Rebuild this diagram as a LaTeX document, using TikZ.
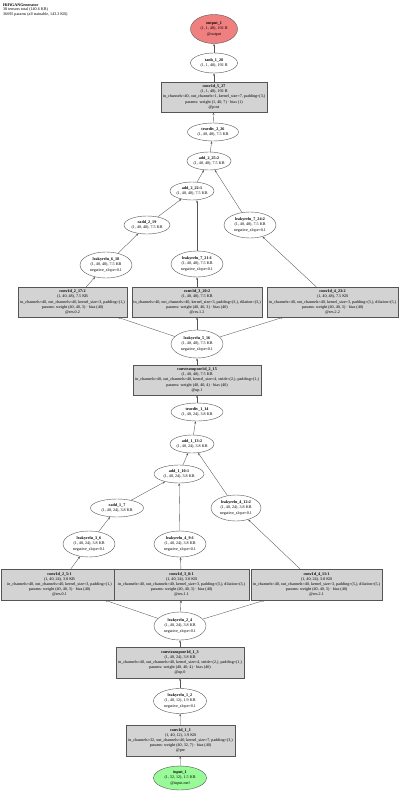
\documentclass[tikz,border=0pt]{standalone}
\usepackage{fontspec}
\setmainfont{Liberation Serif}
\usetikzlibrary{shapes.geometric, arrows.meta}
\definecolor{boxgray}{HTML}{D3D3D3}
\definecolor{linegray}{HTML}{555555}
\definecolor{outred}{HTML}{F08080}
\definecolor{ingreen}{HTML}{98FB98}
\newcommand{\nfont}{\fontsize{4.1}{5.2}\selectfont}
\newcommand{\spill}[1]{\makebox[0pt]{#1}}
\tikzset{
	layer/.style={ellipse, draw=linegray, fill=white, line width=0.4pt,
		inner sep=0pt, minimum width=52pt, minimum height=26pt,
		align=center, font=\nfont},
	small/.style={minimum height=18pt},
	module/.style={rectangle, draw=linegray, fill=boxgray, line width=0.4pt,
		inner sep=0pt, minimum height=30pt, align=center, font=\nfont},
	flow/.style={-{Stealth[length=2.6pt,width=1.9pt]}, linegray, line width=0.35pt}
}

\begin{document}
\begin{tikzpicture}[x=1pt, y=-1pt]
	\useasboundingbox (0,0) rectangle (400,795);
	
	%% title
	\node[anchor=north west, align=left, inner sep=0pt,
	font=\fontsize{4.1}{4.6}\selectfont] (title) at (3,3)
	{\textbf{HiFiGANGenerator}\\38 tensors total (140.6 KB)\\36695 params (all trainable, 143.3 KB)};
	
	%% output side
	\node[layer, fill=outred, minimum width=47pt, minimum height=29pt]
	(out) at (214,29) {\textbf{output\_1}\\(1, 1, 48), 192 B\\@output};
	\node[layer, minimum width=47pt, minimum height=20pt]
	(tanh) at (214,63) {\textbf{tanh\_1\_28}\\(1, 1, 48), 192 B};
	\node[module, minimum width=106pt] (post) at (214,97) {\textbf{conv1d\_5\_27}\\(1, 1, 48), 192 B\\
		\spill{in\_channels=40, out\_channels=1, kernel\_size=7, padding=(3,)}\\
		params: weight (1, 40, 7) · bias (1)\\@post};
	\node[layer, small, minimum width=51pt] (divB) at (213,132) {\textbf{truediv\_2\_26}\\(1, 40, 48), 7.5 KB};
	
	%% second residual stage
	\node[layer, small, minimum width=44pt] (addB2) at (209,161) {\textbf{add\_2\_25:2}\\(1, 40, 48), 7.5 KB};
	\node[layer, small, minimum width=44pt] (addB1) at (192,191) {\textbf{add\_2\_22:1}\\(1, 40, 48), 7.5 KB};
	\node[layer, small, minimum width=46pt] (raddB) at (147,225) {\textbf{radd\_2\_19}\\(1, 40, 48), 7.5 KB};
	\node[layer] (reluB3) at (250,225) {\textbf{leakyrelu\_7\_24:2}\\(1, 40, 48), 7.5 KB\\negative\_slope=0.1};
	\node[layer] (reluB1) at (106,265) {\textbf{leakyrelu\_6\_18}\\(1, 40, 48), 7.5 KB\\negative\_slope=0.1};
	\node[layer] (reluB2) at (197,264) {\textbf{leakyrelu\_7\_21:1}\\(1, 40, 48), 7.5 KB\\negative\_slope=0.1};
	
	\node[module, minimum width=109pt] (convB1) at (72.5,302) {\textbf{conv1d\_2\_17:2}\\(1, 40, 48), 7.5 KB\\
		\spill{in\_channels=40, out\_channels=40, kernel\_size=3, padding=(1,)}\\
		params: weight (40, 40, 3) · bias (40)\\@res.0.2};
	\node[module, minimum width=130pt] (convB2) at (197,302) {\textbf{conv1d\_3\_20:2}\\(1, 40, 48), 7.5 KB\\
		\spill{in\_channels=40, out\_channels=40, kernel\_size=3, padding=(3,), dilation=(3,)}\\
		params: weight (40, 40, 3) · bias (40)\\@res.1.2};
	\node[module, minimum width=131pt] (convB3) at (332.5,302) {\textbf{conv1d\_4\_23:2}\\(1, 40, 48), 7.5 KB\\
		\spill{in\_channels=40, out\_channels=40, kernel\_size=3, padding=(5,), dilation=(5,)}\\
		params: weight (40, 40, 3) · bias (40)\\@res.2.2};
	
	\node[layer, minimum height=28pt] (reluUp2) at (197,344) {\textbf{leakyrelu\_5\_16}\\(1, 40, 48), 7.5 KB\\negative\_slope=0.1};
	\node[module, minimum width=128pt] (up2) at (197,380) {\textbf{convtranspose1d\_2\_15}\\(1, 40, 48), 7.5 KB\\
		\spill{in\_channels=40, out\_channels=40, kernel\_size=4, stride=(2,), padding=(1,)}\\
		params: weight (40, 40, 4) · bias (40)\\@up.1};
	\node[layer, small] (divA) at (197,412) {\textbf{truediv\_1\_14}\\(1, 40, 24), 3.8 KB};
	
	%% first residual stage
	\node[layer, small, minimum width=44pt] (addA2) at (192,444) {\textbf{add\_1\_13:2}\\(1, 40, 24), 3.8 KB};
	\node[layer, small, minimum width=50pt] (addA1) at (179,474) {\textbf{add\_1\_10:1}\\(1, 40, 24), 3.8 KB};
	\node[layer, small, minimum width=53pt] (raddA) at (117,508) {\textbf{radd\_1\_7}\\(1, 40, 24), 3.8 KB};
	\node[layer, minimum width=50pt] (reluA3) at (236,508) {\textbf{leakyrelu\_4\_12:2}\\(1, 40, 24), 3.8 KB\\negative\_slope=0.1};
	\node[layer] (reluA1) at (89,544) {\textbf{leakyrelu\_3\_6}\\(1, 40, 24), 3.8 KB\\negative\_slope=0.1};
	\node[layer] (reluA2) at (180,544) {\textbf{leakyrelu\_4\_9:1}\\(1, 40, 24), 3.8 KB\\negative\_slope=0.1};
	
	\node[module, minimum width=117pt, minimum height=31pt] (convA1) at (59.5,584.5) {\textbf{conv1d\_2\_5:1}\\(1, 40, 24), 3.8 KB\\
		\spill{in\_channels=40, out\_channels=40, kernel\_size=3, padding=(1,)}\\
		params: weight (40, 40, 3) · bias (40)\\@res.0.1};
	\node[module, minimum width=135pt, minimum height=31pt] (convA2) at (181.5,584.5) {\textbf{conv1d\_3\_8:1}\\(1, 40, 24), 3.8 KB\\
		\spill{in\_channels=40, out\_channels=40, kernel\_size=3, padding=(3,), dilation=(3,)}\\
		params: weight (40, 40, 3) · bias (40)\\@res.1.1};
	\node[module, minimum width=131pt, minimum height=31pt] (convA3) at (316.5,584.5) {\textbf{conv1d\_4\_11:1}\\(1, 40, 24), 3.8 KB\\
		\spill{in\_channels=40, out\_channels=40, kernel\_size=3, padding=(5,), dilation=(5,)}\\
		params: weight (40, 40, 3) · bias (40)\\@res.2.1};
	
	%% input side
	\node[layer, minimum height=28pt] (reluUp1) at (180,626) {\textbf{leakyrelu\_2\_4}\\(1, 40, 24), 3.8 KB\\negative\_slope=0.1};
	\node[module, minimum width=128pt, minimum height=31pt] (up1) at (180,662.5) {\textbf{convtranspose1d\_1\_3}\\(1, 40, 24), 3.8 KB\\
		\spill{in\_channels=40, out\_channels=40, kernel\_size=4, stride=(2,), padding=(1,)}\\
		params: weight (40, 40, 4) · bias (40)\\@up.0};
	\node[layer, minimum width=53pt, minimum height=25pt] (reluPre) at (180,701) {\textbf{leakyrelu\_1\_2}\\(1, 40, 12), 1.9 KB\\negative\_slope=0.1};
	\node[module, minimum width=109pt, minimum height=31pt] (pre) at (180.5,740.5) {\textbf{conv1d\_1\_1}\\(1, 40, 12), 1.9 KB\\
		\spill{in\_channels=32, out\_channels=40, kernel\_size=7, padding=(3,)}\\
		params: weight (40, 32, 7) · bias (40)\\@pre};
	\node[layer, fill=ingreen, minimum width=53pt, minimum height=24pt] (input) at (180,778) {\textbf{input\_1}\\(1, 32, 12), 1.5 KB\\@input.mel};
	
	%% edges
	\draw[flow] (input) -- (pre);
	\draw[flow] (pre) -- (reluPre);
	\draw[flow] (reluPre) -- (up1);
	\draw[flow] (up1) -- (reluUp1);
	\foreach \c in {convA1, convA2, convA3}
	\draw[flow] (reluUp1) -- (\c);
	\draw[flow] (convA1) -- (reluA1);
	\draw[flow] (reluA1) -- (raddA);
	\draw[flow] (raddA) -- (addA1);
	\draw[flow] (convA2) -- (reluA2);
	\draw[flow] (reluA2) -- (addA1);
	\draw[flow] (convA3) -- (reluA3);
	\draw[flow] (reluA3) -- (addA2);
	\draw[flow] (addA1) -- (addA2);
	\draw[flow] (addA2) -- (divA);
	\draw[flow] (divA) -- (up2);
	\draw[flow] (up2) -- (reluUp2);
	\foreach \c in {convB1, convB2, convB3}
	\draw[flow] (reluUp2) -- (\c);
	\draw[flow] (convB1) -- (reluB1);
	\draw[flow] (reluB1) -- (raddB);
	\draw[flow] (raddB) -- (addB1);
	\draw[flow] (convB2) -- (reluB2);
	\draw[flow] (reluB2.north) -- (reluB2.north |- addB1.south);
	\draw[flow] (convB3) -- (reluB3);
	\draw[flow] (reluB3) -- (addB2);
	\draw[flow] (addB1) -- (addB2);
	\draw[flow] (addB2) -- (divB);
	\draw[flow] (divB) -- (post);
	\draw[flow] (post) -- (tanh);
	\draw[flow] (tanh) -- (out);
	
\end{tikzpicture}
\end{document}
